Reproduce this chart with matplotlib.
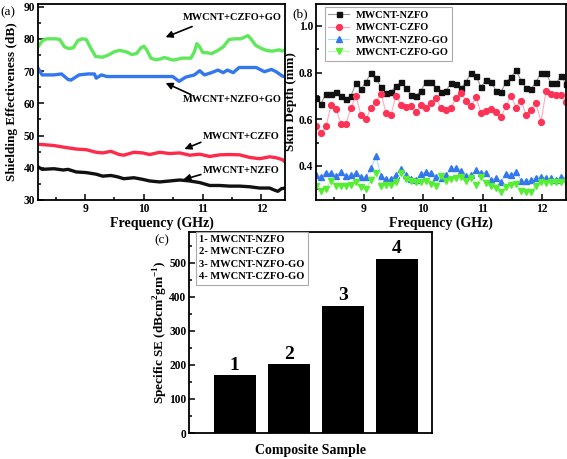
import matplotlib
matplotlib.use("Agg")
import matplotlib.pyplot as plt
from matplotlib.ticker import MultipleLocator
import numpy as np

plt.rcParams['font.family'] = ['Liberation Serif', 'DejaVu Serif']
plt.rcParams['font.weight'] = 'bold'
plt.rcParams['mathtext.fontset'] = 'custom'
plt.rcParams['mathtext.rm'] = 'Liberation Serif:bold'

# ---- (a) shielding effectiveness vs frequency
freq_cz_go = [8.2, 8.28, 8.35, 8.5, 8.57, 8.65, 8.72, 8.8, 8.88, 8.95, 9.02, 9.1, 9.18, 9.3,
              9.4, 9.5, 9.58, 9.7, 9.8, 9.88, 9.95, 10.0, 10.05, 10.12, 10.2, 10.27, 10.35,
              10.42, 10.5, 10.58, 10.65, 10.8, 10.86, 10.9, 10.95, 11.0, 11.1, 11.15, 11.25,
              11.35, 11.45, 11.55, 11.65, 11.72, 11.77, 11.82, 11.9, 12.0, 12.1, 12.2, 12.3,
              12.35, 12.4]
se_cz_go = [77.5, 79.5, 80, 80, 79.8, 77.5, 77, 77.2, 79.5, 80, 79.8, 77, 74.5, 74.3,
            75, 76, 76.4, 76, 75.1, 75.5, 77.2, 77.7, 76.5, 74, 73.5, 73.7, 74.2,
            73.8, 73.4, 73.7, 74, 74, 76, 78.5, 77.5, 75.8, 75.6, 75.4, 76.3,
            77.5, 79.8, 80, 80, 80.6, 81, 80, 78, 77, 76.3, 76.2, 76.6,
            76.2, 76.5]

freq_nz_go = [8.2, 8.27, 8.35, 8.47, 8.6, 8.71, 8.76, 8.9, 9.05, 9.16, 9.19, 9.28, 9.37,
              9.6, 9.9, 10.2, 10.49, 10.6, 10.71, 10.86, 10.95, 11.03, 11.15, 11.26,
              11.35, 11.42, 11.52, 11.62, 11.91, 12.05, 12.17, 12.25, 12.35, 12.4]
se_nz_go = [70.9, 68.8, 68.8, 68.8, 69.1, 67.4, 67.2, 68.8, 69.1, 69.1, 67.8, 68.8, 68.3,
            68.3, 68.3, 68.3, 68.3, 66.8, 68.1, 68.8, 70.1, 68.8, 69.5, 70.3,
            69.5, 70.3, 69.5, 71.1, 71.1, 69.8, 70.5, 69.8, 68.5, 68.2]

freq_cz = [8.2, 8.47, 8.63, 8.85, 9.02, 9.19, 9.3, 9.44, 9.58, 9.66, 9.83, 9.98, 10.1,
           10.27, 10.44, 10.61, 10.78, 10.95, 11.12, 11.29, 11.46, 11.63, 11.8, 11.97,
           12.14, 12.25, 12.36, 12.4]
se_cz = [47.3, 46.9, 46.4, 45.8, 45.6, 44.8, 44.6, 45.1, 44.1, 43.9, 44.8, 44.6, 44.1,
         44.8, 44.4, 44.6, 43.9, 44.2, 43.5, 44.0, 44.1, 44.0, 43.2, 42.8,
         43.4, 43.1, 42.5, 41.8]

freq_nz = [8.2, 8.27, 8.47, 8.63, 8.71, 8.85, 9.02, 9.19, 9.3, 9.44, 9.55, 9.66, 9.83,
           9.98, 10.1, 10.27, 10.44, 10.61, 10.78, 10.95, 11.12, 11.29, 11.46, 11.63,
           11.8, 11.97, 12.14, 12.23, 12.28, 12.34, 12.4]
se_nz = [40.3, 39.5, 39.7, 39.3, 39.5, 38.7, 38.5, 38.0, 37.4, 37.6, 37.2, 36.6, 36.9,
         36.4, 35.9, 35.6, 35.9, 36.2, 35.9, 35.4, 34.5, 34.5, 34.3, 34.3,
         34.1, 33.7, 33.7, 33.0, 32.7, 33.5, 33.7]

# ---- (b) skin depth vs frequency
freq_b = np.linspace(8.2, 12.4, 51)
skin_nzfo = [0.69, 0.666, 0.71, 0.71, 0.717, 0.70, 0.686, 0.70, 0.755, 0.73, 0.76, 0.80, 0.777,
             0.737, 0.714, 0.717, 0.743, 0.76, 0.734, 0.706, 0.70, 0.723, 0.76, 0.76, 0.734,
             0.717, 0.723, 0.754, 0.75, 0.734, 0.76, 0.80, 0.786, 0.737, 0.77, 0.76, 0.723,
             0.717, 0.76, 0.78, 0.81, 0.766, 0.734, 0.73, 0.76, 0.80, 0.797, 0.754, 0.754,
             0.786, 0.75]
skin_czfo = [0.57, 0.54, 0.57, 0.66, 0.645, 0.58, 0.58, 0.65, 0.70, 0.617, 0.60, 0.65, 0.674,
             0.71, 0.628, 0.62, 0.70, 0.663, 0.654, 0.657, 0.63, 0.66, 0.65, 0.67, 0.69,
             0.65, 0.64, 0.65, 0.69, 0.714, 0.68, 0.657, 0.694, 0.626, 0.637, 0.646, 0.63,
             0.61, 0.657, 0.70, 0.65, 0.68, 0.62, 0.64, 0.668, 0.59, 0.72, 0.708, 0.706,
             0.706, 0.675]
skin_nzfo_go = [0.361, 0.354, 0.37, 0.369, 0.357, 0.374, 0.357, 0.36, 0.37, 0.351, 0.354, 0.389,
                0.443, 0.357, 0.343, 0.346, 0.363, 0.386, 0.36, 0.343, 0.34, 0.365, 0.375,
                0.369, 0.354, 0.347, 0.361, 0.39, 0.39, 0.38, 0.357, 0.361, 0.383, 0.371,
                0.371, 0.34, 0.347, 0.333, 0.366, 0.361, 0.376, 0.337, 0.337, 0.34, 0.35,
                0.354, 0.347, 0.347, 0.34, 0.354, 0.35]
skin_czfo_go = [0.314, 0.293, 0.303, 0.337, 0.314, 0.314, 0.314, 0.32, 0.331, 0.309, 0.303, 0.34,
                0.371, 0.314, 0.317, 0.317, 0.329, 0.369, 0.346, 0.334, 0.329, 0.329, 0.337,
                0.323, 0.314, 0.357, 0.337, 0.343, 0.347, 0.351, 0.337, 0.347, 0.319, 0.351,
                0.326, 0.314, 0.304, 0.29, 0.311, 0.319, 0.323, 0.294, 0.29, 0.29, 0.314,
                0.333, 0.326, 0.329, 0.329, 0.329, 0.333]

# ---- (c) specific SE
samples = [1, 2, 3, 4]
specific_se = [170, 202, 374, 512]
sample_names = ['MWCNT-NZFO', 'MWCNT-CZFO', 'MWCNT-NZFO-GO', 'MWCNT-CZFO-GO']

fig = plt.figure(figsize=(5.67, 4.59), dpi=100)
ax_a = fig.add_axes([0.067, 0.5643, 0.4356, 0.427])
ax_b = fig.add_axes([0.5573, 0.5643, 0.441, 0.427])
ax_c = fig.add_axes([0.3339, 0.0566, 0.428, 0.438])

for ax in (ax_a, ax_b, ax_c):
    for s in ax.spines.values():
        s.set_linewidth(1.3)
    ax.tick_params(direction='in', which='both', width=1.1, labelsize=8.3, pad=2)
    ax.tick_params(which='major', length=4)
    ax.tick_params(which='minor', length=2.2)

# (a)
ax_a.plot(freq_cz_go, se_cz_go, color='#5fe85a', lw=2.4)
ax_a.plot(freq_nz_go, se_nz_go, color='#3377ee', lw=2.4)
ax_a.plot(freq_cz, se_cz, color='#ff2a4a', lw=2.4)
ax_a.plot(freq_nz, se_nz, color='#111111', lw=2.4)
ax_a.set_xlim(8.2, 12.4)
ax_a.set_ylim(30, 90.8)
ax_a.xaxis.set_major_locator(MultipleLocator(1))
ax_a.xaxis.set_minor_locator(MultipleLocator(0.5))
ax_a.yaxis.set_major_locator(MultipleLocator(10))
ax_a.yaxis.set_minor_locator(MultipleLocator(5))
ax_a.set_xlabel('Frequency (GHz)', fontsize=10, fontweight='bold', labelpad=1)
ax_a.set_ylabel('Shielding Effectiveness (dB)', fontsize=9.5, fontweight='bold')
ax_a.yaxis.set_label_coords(-0.08, 0.5)

arrow = dict(arrowstyle='-|>', color='black', lw=1.2, mutation_scale=10,
             shrinkA=0, shrinkB=0)
ax_a.text(10.66, 86.7, 'MWCNT+CZFO+GO', fontsize=7.5, ha='left', va='center')
ax_a.annotate('', xy=(10.37, 80.5), xytext=(10.82, 83.8), arrowprops=arrow)
ax_a.text(10.66, 61.3, 'MWCNT+NZFO+GO', fontsize=7.5, ha='left', va='center')
ax_a.annotate('', xy=(10.37, 66.3), xytext=(10.8, 62.7), arrowprops=arrow)
ax_a.text(11.0, 49.75, 'MWCNT+CZFO', fontsize=7.5, ha='left', va='center')
ax_a.annotate('', xy=(10.69, 45.8), xytext=(10.97, 47.9), arrowprops=arrow)
ax_a.text(11.0, 39.2, 'MWCNT+NZFO', fontsize=7.5, ha='left', va='center')
ax_a.annotate('', xy=(10.67, 36.3), xytext=(10.97, 37.9), arrowprops=arrow)
fig.text(8 / 567, 1 - 12 / 459, '(a)', fontsize=9.5, ha='center', va='center', fontweight='normal')

# (b)
ax_b.plot(freq_b, skin_nzfo, color='#999999', lw=0.8, marker='s', ms=3.6,
          mfc='#111111', mec='#111111', label='MWCNT-NZFO')
ax_b.plot(freq_b, skin_czfo, color='#ffaabb', lw=0.8, marker='o', ms=4.2,
          mfc='#ff3355', mec='#ff3355', label='MWCNT-CZFO')
ax_b.plot(freq_b, skin_nzfo_go, color='#aaddff', lw=0.8, marker='^', ms=4.2,
          mfc='#3377ee', mec='#3377ee', label='MWCNT-NZFO-GO')
ax_b.plot(freq_b, skin_czfo_go, color='#aaffaa', lw=0.8, marker='v', ms=4.2,
          mfc='#55ee33', mec='#55ee33', label='MWCNT-CZFO-GO')
ax_b.set_xlim(8.2, 12.4)
ax_b.set_ylim(0.254, 1.094)
ax_b.xaxis.set_major_locator(MultipleLocator(1))
ax_b.xaxis.set_minor_locator(MultipleLocator(0.5))
ax_b.yaxis.set_major_locator(MultipleLocator(0.2))
ax_b.yaxis.set_minor_locator(MultipleLocator(0.1))
ax_b.set_xlabel('Frequency (GHz)', fontsize=10, fontweight='bold', labelpad=1)
ax_b.set_ylabel('Skin Depth (mm)', fontsize=9.5, fontweight='bold')
ax_b.yaxis.set_label_coords(-0.075, 0.5)
leg = ax_b.legend(loc='upper left', bbox_to_anchor=(0.035, 0.985), fontsize=7.5,
                  handlelength=2.0, handletextpad=0.6, labelspacing=0.3,
                  borderpad=0.35, fancybox=False, framealpha=1, borderaxespad=0)
leg.get_frame().set_edgecolor('#aaaaaa')
leg.get_frame().set_linewidth(0.8)
fig.text(300 / 567, 1 - 14 / 459, '(b)', fontsize=9.5, ha='center', va='center', fontweight='normal')

# (c)
bars = ax_c.bar(samples, specific_se, width=0.78, color='black')
for x, v in zip(samples, specific_se):
    ax_c.annotate(str(x), (x, v), xytext=(0, 1), textcoords='offset points',
                  ha='center', va='bottom', fontsize=14, fontweight='bold')
ax_c.set_xlim(0.16, 4.65)
ax_c.set_ylim(0, 590)
ax_c.set_xticks([])
ax_c.yaxis.set_major_locator(MultipleLocator(100))
ax_c.yaxis.set_minor_locator(MultipleLocator(50))
ax_c.set_xlabel('Composite Sample', fontsize=10, fontweight='bold', labelpad=8)
ax_c.set_ylabel(r'Specific SE (dBcm$^{2}$gm$^{-1}$)', fontsize=9.5, fontweight='bold')
ax_c.yaxis.set_label_coords(-0.08, 0.5)
legend_text = '\n'.join(f'{n}- {name}' for n, name in zip(samples, sample_names))
ax_c.text(0.04, 0.985, legend_text, transform=ax_c.transAxes, fontsize=7.6,
          ha='left', va='top', linespacing=1.5,
          bbox=dict(boxstyle='square,pad=0.3', fc='white', ec='#aaaaaa', lw=0.8))
fig.text(161.7 / 567, 1 - 240 / 459, '(c)', fontsize=9.5, ha='center', va='center', fontweight='normal')

fig.savefig('out.png', dpi=100)
